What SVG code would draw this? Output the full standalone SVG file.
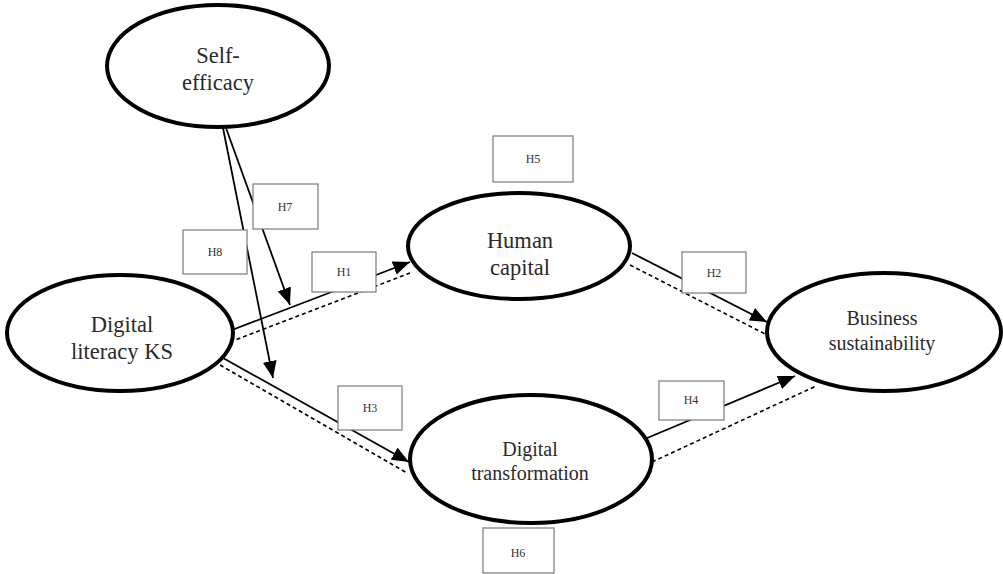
<svg xmlns="http://www.w3.org/2000/svg" width="1003" height="574" viewBox="0 0 1003 574">
<style>
.node ellipse{fill:#fff;stroke:#000;stroke-width:4}
.node text{font-family:"Liberation Serif","Times New Roman",serif;fill:#2a2a2a;text-anchor:middle}
.big{font-size:22.5px}
.mid{font-size:20px}
.lab rect{fill:#fff;stroke:#7a7a7a;stroke-width:1.2}
.lab text{font-family:"Liberation Serif","Times New Roman",serif;font-size:12px;fill:#333;text-anchor:middle}
.sol{stroke:#000;stroke-width:1.8;fill:none}
.arr{marker-end:url(#ah)}
.dash{stroke:#000;stroke-width:1.6;fill:none;stroke-dasharray:4 3}
</style>
<defs>
<marker id="ah" markerUnits="userSpaceOnUse" markerWidth="17" markerHeight="14" refX="17" refY="7" orient="auto">
<path d="M0,0 L17,7 L0,14 Z" fill="#000"/>
</marker>
</defs>
<rect width="1003" height="574" fill="#fff"/>
<g id="connectors">
<line class="sol arr" x1="223" y1="128" x2="273" y2="378"/>
<line class="sol arr" x1="226" y1="128" x2="290" y2="305"/>
<line class="sol arr" x1="232" y1="330" x2="410" y2="262"/>
<line class="dash" x1="230" y1="342" x2="410" y2="273"/>
<line class="sol arr" x1="632" y1="253" x2="767" y2="322"/>
<line class="dash" x1="630" y1="265" x2="767" y2="335"/>
<line class="sol arr" x1="223" y1="358" x2="409" y2="462"/>
<line class="dash" x1="220" y1="365" x2="407" y2="473"/>
<line class="sol arr" x1="640" y1="441" x2="795" y2="376"/>
<line class="dash" x1="652" y1="462" x2="816" y2="386"/>
</g>
<g id="self-efficacy" class="node">
<ellipse cx="218" cy="66" rx="111" ry="61"/>
<text class="big" x="218" y="63">Self-</text>
<text class="big" x="218" y="90">efficacy</text>
</g>
<g id="digital-literacy" class="node">
<ellipse cx="120" cy="333" rx="113" ry="58"/>
<text class="big" x="122" y="332">Digital</text>
<text class="big" x="122" y="359">literacy KS</text>
</g>
<g id="human-capital" class="node">
<ellipse cx="519" cy="246" rx="111" ry="53"/>
<text class="big" x="520" y="248">Human</text>
<text class="big" x="520" y="275">capital</text>
</g>
<g id="digital-transformation" class="node">
<ellipse cx="531" cy="459" rx="121" ry="64"/>
<text class="mid" x="530" y="456">Digital</text>
<text class="mid" x="530" y="480">transformation</text>
</g>
<g id="business-sustainability" class="node">
<ellipse cx="884" cy="332" rx="117" ry="59"/>
<text class="mid" x="882" y="325">Business</text>
<text class="mid" x="882" y="350">sustainability</text>
</g>
<g id="label-H1" class="lab"><rect x="312" y="252" width="64" height="40"/><text x="344" y="276">H1</text></g>
<g id="label-H2" class="lab"><rect x="682" y="252" width="64" height="41"/><text x="714" y="277">H2</text></g>
<g id="label-H3" class="lab"><rect x="338" y="386" width="64" height="44"/><text x="370" y="412">H3</text></g>
<g id="label-H4" class="lab"><rect x="659" y="381" width="65" height="39"/><text x="691" y="404">H4</text></g>
<g id="label-H5" class="lab"><rect x="493" y="136" width="80" height="46"/><text x="533" y="163">H5</text></g>
<g id="label-H6" class="lab"><rect x="483" y="528" width="71" height="45"/><text x="518" y="557">H6</text></g>
<g id="label-H7" class="lab"><rect x="253" y="184" width="65" height="45"/><text x="285" y="211">H7</text></g>
<g id="label-H8" class="lab"><rect x="183" y="230" width="64" height="44"/><text x="215" y="256">H8</text></g>
</svg>
